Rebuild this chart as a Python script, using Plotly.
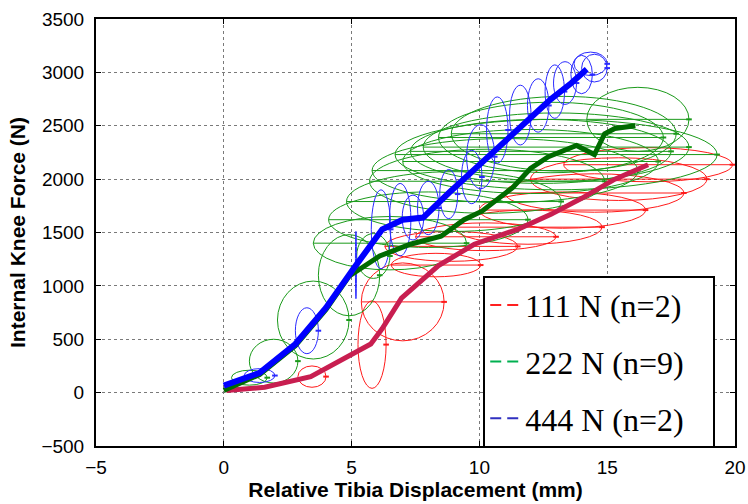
import plotly.graph_objects as go

# ---------------- data ----------------
# mean curves
red_x = [0.1, 1.6, 3.4, 5.75, 6.2, 6.95, 8.4, 9.8, 11.5, 12.8, 14.0, 15.3, 16.6]
red_y = [20, 50, 150, 455, 600, 885, 1190, 1390, 1530, 1670, 1820, 2000, 2135]

green_x = [0.0, 1.4, 2.8, 4.0, 4.9, 6.1, 7.3, 8.5, 9.4, 10.1, 11.3, 12.0, 12.7, 13.8, 14.5, 14.9, 15.3, 16.1]
green_y = [20, 170, 440, 780, 1090, 1280, 1390, 1465, 1620, 1700, 1920, 2100, 2210, 2315, 2230, 2425, 2475, 2500]

blue_x = [0.0, 1.4, 2.8, 4.0, 5.1, 6.2, 7.0, 7.8, 8.8, 9.8, 10.8, 11.8, 12.8, 13.6, 14.2]
blue_y = [65, 185, 455, 795, 1170, 1530, 1620, 1640, 1870, 2090, 2310, 2530, 2750, 2900, 3030]

# error ellipses: centre x, centre y, half-width (mm), half-height (N)
red_ex = [3.45, 5.8, 7.0, 8.3, 8.9, 10.25, 11.9, 13.25, 14.5, 15.45, 16.6]
red_ey = [150, 450, 850, 1195, 1370, 1460, 1550, 1710, 1870, 2000, 2135]
red_rx = [0.55, 0.55, 1.62, 1.75, 2.6, 2.75, 2.9, 3.25, 3.5, 3.45, 3.3]
red_ry = [100, 410, 365, 110, 140, 130, 160, 170, 180, 200, 160]

green_ex = [1.0, 1.95, 3.5, 4.9, 5.85, 6.5, 8.0, 9.0, 10.3, 11.0, 12.0, 12.4, 13.0, 13.0, 12.8, 13.3, 16.2]
green_ey = [140, 295, 680, 1100, 1280, 1400, 1620, 1790, 1980, 2080, 2165, 2260, 2230, 2300, 2390, 2425, 2560]
green_rx = [0.7, 0.95, 1.4, 1.2, 0.65, 3.0, 3.9, 4.2, 4.6, 5.2, 5.0, 5.1, 6.3, 5.2, 4.4, 4.4, 2.0]
green_ry = [70, 205, 365, 380, 210, 250, 260, 280, 300, 300, 300, 300, 330, 320, 330, 350, 300]

blue_ex = [1.4, 3.25, 5.17, 6.15, 6.9, 7.4, 8.0, 8.8, 9.7, 10.05, 10.7, 11.6, 12.3, 12.95, 13.35, 14.0, 14.35, 14.5]
blue_ey = [160, 580, 1195, 1530, 1620, 1640, 1730, 1860, 2020, 2210, 2460, 2600, 2690, 2820, 2900, 2980, 3080, 3040]
blue_rx = [0.6, 0.45, 0.02, 0.38, 0.42, 0.42, 0.42, 0.35, 0.4, 0.55, 0.42, 0.42, 0.42, 0.38, 0.45, 0.42, 0.65, 0.5]
blue_ry = [65, 215, 315, 370, 340, 210, 250, 230, 250, 300, 310, 280, 250, 250, 200, 180, 110, 130]

legend_labels = ["111 N (n=2)", "222 N (n=9)", "444 N (n=2)"]

x_ticks = [-5, 0, 5, 10, 15, 20]
y_ticks = [-500, 0, 500, 1000, 1500, 2000, 2500, 3000, 3500]

# ---------------- styles ----------------
thin_red = "#ff1a1a"
thin_green = "#1a9a1a"
thin_blue = "#2a2aff"
mean_red = "#c81e50"
mean_green = "#006a00"
mean_blue = "#0000ff"
leg_red = "#ff2020"
leg_green = "#00b050"
leg_blue = "#3030c0"

fig = go.Figure()
shapes = []


def add_ellipses(ex, ey, rx, ry, col, diam):
    for cx, cy, a, b in zip(ex, ey, rx, ry):
        shapes.append(dict(type="circle", xref="x", yref="y", layer="between",
                           x0=cx - a, x1=cx + a, y0=cy - b, y1=cy + b,
                           line=dict(color=col, width=1)))
        if diam and a > 1.5:
            shapes.append(dict(type="line", xref="x", yref="y", layer="between",
                               x0=cx - a, x1=cx + a, y0=cy, y1=cy,
                               line=dict(color=col, width=1)))
    fig.add_trace(go.Scatter(x=[c + a for c, a in zip(ex, rx)], y=ey, mode="markers",
                             marker=dict(symbol="line-ew", size=4, color=col,
                                         line=dict(color=col, width=2)),
                             showlegend=False, hoverinfo="skip"))


add_ellipses(red_ex, red_ey, red_rx, red_ry, thin_red, True)
add_ellipses(green_ex, green_ey, green_rx, green_ry, thin_green, True)
add_ellipses(blue_ex, blue_ey, blue_rx, blue_ry, thin_blue, False)

fig.add_trace(go.Scatter(x=red_x, y=red_y, mode="lines", line=dict(color=mean_red, width=5),
                         showlegend=False, hoverinfo="skip"))
fig.add_trace(go.Scatter(x=green_x, y=green_y, mode="lines", line=dict(color=mean_green, width=5),
                         showlegend=False, hoverinfo="skip"))
fig.add_trace(go.Scatter(x=blue_x, y=blue_y, mode="lines", line=dict(color=mean_blue, width=6),
                         showlegend=False, hoverinfo="skip"))

for i, (lab, col) in enumerate(zip(legend_labels, [leg_red, leg_green, leg_blue])):
    fig.add_trace(go.Scatter(x=[None], y=[None], mode="lines", name=lab + "\u00a0\u00a0\u00a0",
                             legendgroup="g%d" % i,
                             line=dict(color=col, width=2, dash="11px,6px")))

axis_common = dict(showline=True, linecolor="black", linewidth=2, mirror="ticks",
                   ticks="inside", ticklen=5, tickcolor="black", tickwidth=1,
                   showgrid=True, gridcolor="#7a7a7a", griddash="dot", gridwidth=1,
                   zeroline=False, automargin=False,
                   tickfont=dict(family="Liberation Sans, Arial", size=19, color="black"))

fig.update_layout(
    width=748, height=504,
    margin=dict(l=96, r=13, t=19, b=58, autoexpand=False),
    paper_bgcolor="white", plot_bgcolor="white",
    shapes=shapes,
    xaxis=dict(range=[-5, 20], tickvals=x_ticks, ticklabelstandoff=3,
               title=dict(text="<b>Relative Tibia Displacement (mm)</b>", standoff=4,
                          font=dict(family="Liberation Sans, Arial", size=21, color="black")),
               **axis_common),
    yaxis=dict(range=[-500, 3500], tickvals=y_ticks, ticklabelstandoff=6,
               title=dict(text="<b>Internal Knee Force (N)</b>", standoff=10,
                          font=dict(family="Liberation Sans, Arial", size=21, color="black")),
               **axis_common),
    legend=dict(x=0.606, y=0.399, xanchor="left", yanchor="top",
                bgcolor="white", bordercolor="black", borderwidth=2,
                tracegroupgap=12,
                font=dict(family="Liberation Serif, Times New Roman", size=32, color="black")),
)

fig.write_html("out.html")
